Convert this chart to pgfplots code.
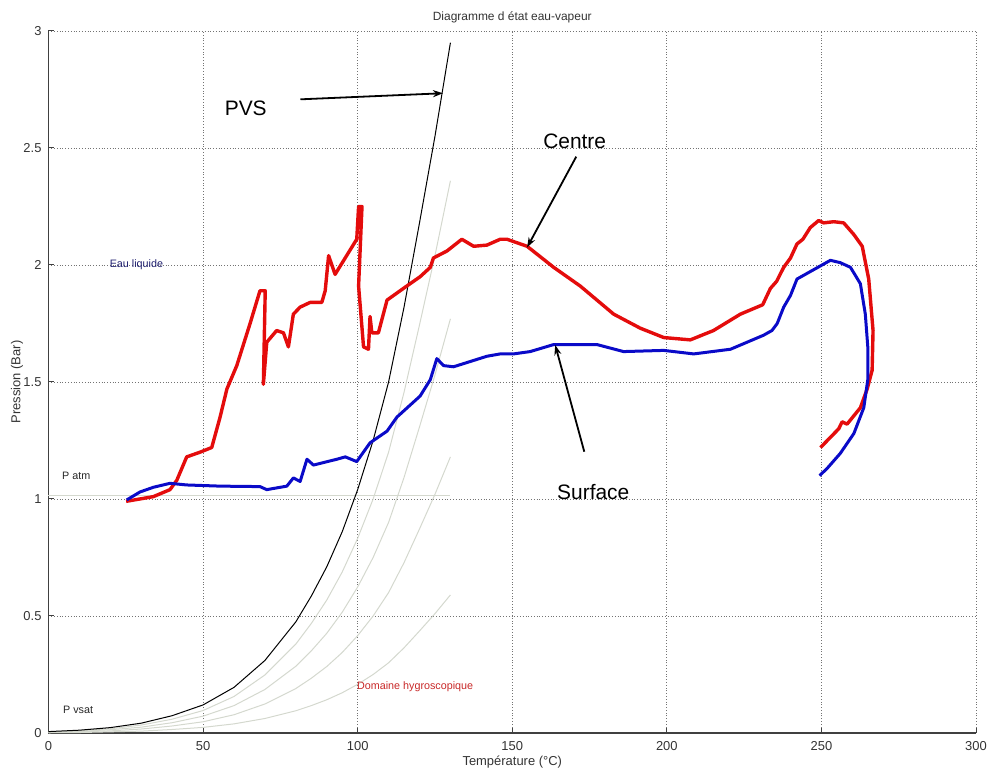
\documentclass[border=0pt]{standalone}
\usepackage{pgfplots}
\pgfplotsset{compat=1.18}
\usepackage{fontspec}
\setmainfont{Liberation Sans}
\usetikzlibrary{arrows.meta}
\definecolor{cred}{RGB}{228,12,12}
\definecolor{cblue}{RGB}{10,10,200}
\definecolor{clight}{RGB}{212,216,206}
\definecolor{cnavy}{RGB}{30,30,110}
\definecolor{cdred}{RGB}{200,40,40}
\begin{document}
\begin{tikzpicture}
\path[use as bounding box] (-24.25bp,-19.5bp) rectangle (469.25bp,366.5bp);
\begin{axis}[
  at={(0,0)}, anchor=south west,
  scale only axis, width=463.75bp, height=351bp,
  xmin=0, xmax=300, ymin=0, ymax=3,
  xtick={0,50,100,150,200,250,300},
  ytick={0,0.5,1,1.5,2,2.5,3},
  axis lines=left, axis line style={-, line width=0.6bp, black!75},
  tick align=inside, major tick length=2.5bp,
  tick style={black!75, line width=0.5bp},
  grid=major, major grid style={densely dotted, black!55, line width=0.45bp},
  /pgf/number format/assume math mode=true,
  ticklabel style={font=\fontsize{6.5}{7}\selectfont, text=black!80},
  xticklabel style={yshift=-0.5bp},
  xlabel={Température (°C)},
  xlabel style={at={(axis description cs:0.5,-0.0413)}, anchor=center, font=\fontsize{6.5}{7}\selectfont, text=black!80},
  ylabel={Pression (Bar)},
  ylabel style={at={(axis description cs:-0.034,0.5)}, anchor=center, font=\fontsize{6.5}{7}\selectfont, text=black!80},
  clip=false,
]
% P atm line
\addplot[clight, line width=0.5bp] coordinates {(0,1.013) (130,1.013)};
% fractional saturation curves
\addplot[clight, line width=0.5bp] coordinates {
(0,0.001) (10,0.002) (20,0.005) (30,0.008) (40,0.015) (50,0.024) (60,0.039) (70,0.062) (80,0.095) (85,0.117) (90,0.142) (95,0.172) (100,0.208) (105,0.25) (110,0.30) (115,0.364) (120,0.436) (125,0.51) (130,0.59)};
\addplot[clight, line width=0.5bp] coordinates {
(0,0.002) (10,0.005) (20,0.009) (30,0.017) (40,0.030) (50,0.048) (60,0.078) (70,0.124) (80,0.190) (85,0.234) (90,0.284) (95,0.344) (100,0.416) (105,0.50) (110,0.60) (115,0.728) (120,0.872) (125,1.02) (130,1.18)};
\addplot[clight, line width=0.5bp] coordinates {
(0,0.004) (10,0.007) (20,0.014) (30,0.025) (40,0.044) (50,0.072) (60,0.117) (70,0.186) (80,0.285) (85,0.351) (90,0.426) (95,0.516) (100,0.624) (105,0.75) (110,0.90) (115,1.092) (120,1.308) (125,1.53) (130,1.77)};
\addplot[clight, line width=0.5bp] coordinates {
(0,0.005) (10,0.010) (20,0.018) (30,0.034) (40,0.059) (50,0.096) (60,0.156) (70,0.248) (80,0.380) (85,0.468) (90,0.568) (95,0.688) (100,0.832) (105,1.00) (110,1.20) (115,1.456) (120,1.744) (125,2.04) (130,2.36)};
% PVS
\addplot[black, line width=0.5bp] coordinates {
(0,0.006) (10,0.012) (20,0.023) (30,0.042) (40,0.074) (50,0.120) (60,0.195) (70,0.310) (80,0.475) (85,0.585) (90,0.71) (95,0.86) (100,1.04) (105,1.25) (110,1.50) (115,1.82) (120,2.18) (125,2.55) (130,2.95)};
% Centre (red)
\addplot[cred, line width=1.7bp, line join=round] coordinates {
(25.1,0.99) (33.9,1.01) (39.3,1.04) (41.5,1.08) (44.7,1.18) (49,1.20) (52.8,1.22) (55.5,1.35) (57.7,1.47) (60.9,1.57) (65.2,1.75) (68.4,1.89) (70.1,1.89) (69.5,1.49) (70.6,1.67) (73.8,1.72) (76,1.71) (77.6,1.65) (79.2,1.79) (81.4,1.82) (84.6,1.84) (88.4,1.84) (89.5,1.89) (90.6,2.04) (92.7,1.96) (99.7,2.11) (100.3,2.25) (101.4,2.25) (100.3,1.91) (101.9,1.65) (103.5,1.64) (104,1.78) (104.6,1.71) (106.7,1.71) (109.5,1.85) (114.8,1.90) (120.2,1.95) (123.5,1.99) (124.5,2.03) (128.9,2.06) (133.7,2.11) (137.5,2.08) (141.8,2.085) (146.1,2.11) (148.3,2.11) (154.8,2.08) (163.4,1.99) (172,1.91) (182.8,1.79) (191.4,1.73) (199,1.69) (207.6,1.68) (215.1,1.72) (223.8,1.79) (229.2,1.82) (231,1.83) (233.5,1.90) (235.5,1.93) (237.8,1.99) (240,2.03) (242.1,2.09) (244,2.11) (246.4,2.16) (249.1,2.19) (250.7,2.18) (254,2.185) (257.2,2.18) (260.5,2.13) (263.2,2.08) (265.3,1.94) (266.7,1.72) (266.4,1.55) (264.8,1.47) (262.6,1.39) (258.3,1.32) (256.7,1.33) (255.6,1.30) (249.7,1.22)};
% Surface (blue)
\addplot[cblue, line width=1.5bp, line join=round] coordinates {
(25.3,0.996) (29.6,1.03) (33.9,1.05) (39.3,1.067) (44.7,1.06) (55.5,1.055) (68.4,1.053) (70.6,1.04) (77.1,1.055) (79.2,1.09) (81.4,1.075) (83.6,1.17) (85.7,1.145) (93.3,1.17) (96,1.18) (99.7,1.16) (104,1.24) (107.3,1.27) (109.5,1.29) (112.7,1.35) (120.2,1.44) (123.5,1.51) (125.6,1.60) (127.8,1.57) (131,1.565) (141.8,1.61) (146.1,1.62) (150.4,1.62) (155.8,1.63) (163.4,1.66) (167.7,1.66) (177.4,1.66) (186,1.63) (199,1.635) (208.7,1.62) (220.6,1.64) (231.3,1.70) (234,1.72) (235.7,1.75) (237.8,1.82) (240,1.87) (242.1,1.94) (247.5,1.98) (252.9,2.02) (256.1,2.01) (259.4,1.99) (262.6,1.92) (264.2,1.79) (265,1.65) (265,1.51) (263.7,1.39) (260.5,1.28) (256.1,1.195) (251.8,1.13) (249.4,1.10)};
% annotations
\node[text=black!80, font=\fontsize{6}{7}\selectfont] at (axis description cs:0.5,1.02) {Diagramme d état eau-vapeur};
\node[font=\fontsize{10.5}{12}\selectfont] at (axis cs:63.8,2.67) {PVS};
\draw[-{Stealth[length=5bp,width=3.5bp]}, line width=0.9bp] (axis cs:81.5,2.708) -- (axis cs:127.6,2.734);
\node[font=\fontsize{10.5}{12}\selectfont] at (axis cs:170.2,2.527) {Centre};
\draw[-{Stealth[length=5bp,width=3.5bp]}, line width=0.9bp] (axis cs:170.7,2.463) -- (axis cs:154.8,2.075);
\node[font=\fontsize{10.5}{12}\selectfont] at (axis cs:176.2,1.03) {Surface};
\draw[-{Stealth[length=5bp,width=3.5bp]}, line width=0.9bp] (axis cs:173.3,1.202) -- (axis cs:163.9,1.658);
\node[anchor=west, inner sep=0pt, text=cnavy, font=\fontsize{5.4}{6}\selectfont] at (axis cs:19.7,2.0) {Eau liquide};
\node[anchor=west, inner sep=0pt, text=black!85, font=\fontsize{5.4}{6}\selectfont] at (axis cs:4.3,1.10) {P atm};
\node[anchor=west, inner sep=0pt, text=black!85, font=\fontsize{5.4}{6}\selectfont] at (axis cs:4.6,0.098) {P vsat};
\node[anchor=west, inner sep=0pt, text=cdred, font=\fontsize{5.4}{6}\selectfont] at (axis cs:99.7,0.198) {Domaine hygroscopique};
\end{axis}
\end{tikzpicture}
\end{document}
